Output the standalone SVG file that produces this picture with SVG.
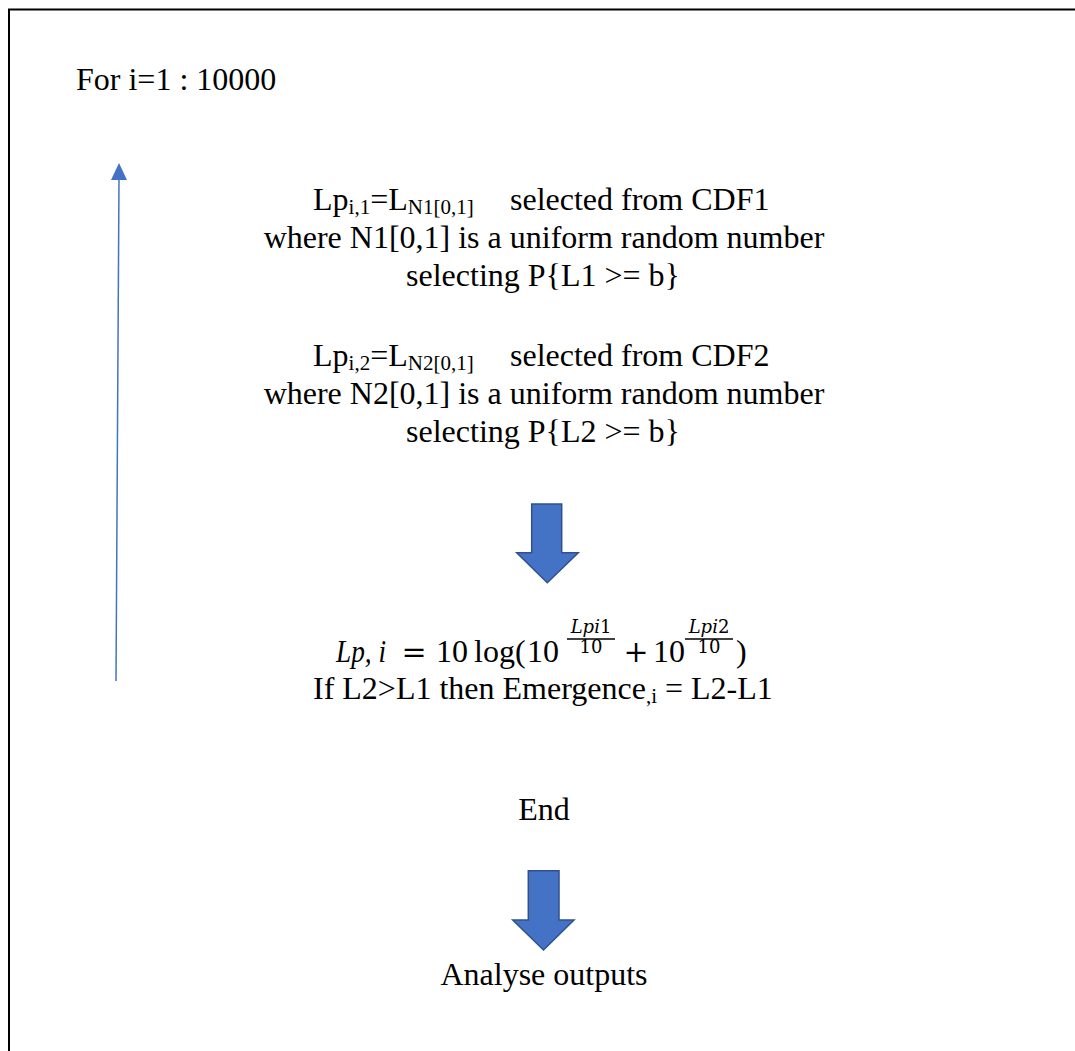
<svg xmlns="http://www.w3.org/2000/svg" width="1075" height="1051" viewBox="0 0 1075 1051">
<style>
.t{font-family:"Liberation Serif","Times New Roman",serif;font-size:32px;fill:#000}
.c{text-anchor:middle}
.sub{font-size:21px}
.it{font-style:italic}
.m{font-family:"Liberation Serif","DejaVu Serif",serif;font-size:32px;fill:#000}
.op{font-family:"DejaVu Serif","Liberation Serif",serif;font-size:30px;fill:#000;text-anchor:middle}
.s{font-family:"DejaVu Serif","Liberation Serif",serif;font-size:18px;fill:#000;text-anchor:middle}
.blk{fill:#4472C4;stroke:#2F528F;stroke-width:1.5;stroke-linejoin:miter}
</style>
<rect width="1075" height="1051" fill="#fff"/>
<path d="M9 1051 V9.5 H1075" fill="none" stroke="#000" stroke-width="2"/>

<g id="loop-header">
<text class="t" x="76" y="90">For i=1 : 10000</text>
</g>

<g id="step1">
<text class="t" x="313" y="210">Lp<tspan class="sub" dy="4">i,1</tspan><tspan dy="-4">=L</tspan><tspan class="sub" dy="4">N1[0,1]</tspan></text>
<text class="t" x="510" y="210">selected from CDF1</text>
<text class="t c" x="544" y="248">where N1[0,1] is a uniform random number</text>
<text class="t c" x="543" y="286">selecting P{L1 &gt;= b}</text>
</g>

<g id="step2">
<text class="t" x="313" y="366">Lp<tspan class="sub" dy="4">i,2</tspan><tspan dy="-4">=L</tspan><tspan class="sub" dy="4">N2[0,1]</tspan></text>
<text class="t" x="510" y="366">selected from CDF2</text>
<text class="t c" x="544" y="404">where N2[0,1] is a uniform random number</text>
<text class="t c" x="543" y="442">selecting P{L2 &gt;= b}</text>
</g>

<g id="combine">
<text class="m it" x="336" y="662" textLength="50" lengthAdjust="spacingAndGlyphs">Lp, i</text>
<text class="op" x="414" y="662">=</text>
<text class="m" x="436" y="662">10</text>
<text class="m" x="474" y="662">log(</text>
<text class="m" x="527" y="662">10</text>
<text class="s" x="591" y="633"><tspan font-style="italic">Lpi</tspan>1</text>
<line x1="567" y1="639" x2="615" y2="639" stroke="#000" stroke-width="1.3"/>
<text class="s" x="591" y="653">10</text>
<text class="op" x="636" y="662">+</text>
<text class="m" x="653" y="662">10</text>
<text class="s" x="709" y="633"><tspan font-style="italic">Lpi</tspan>2</text>
<line x1="685" y1="639" x2="733" y2="639" stroke="#000" stroke-width="1.3"/>
<text class="s" x="709" y="653">10</text>
<text class="m" x="736" y="662">)</text>
<text class="t" x="313" y="699">If L2&gt;L1 then Emergence<tspan class="sub" dy="4">,i</tspan><tspan dy="-4"> = L2-L1</tspan></text>
</g>

<g id="end">
<text class="t c" x="544" y="820">End</text>
</g>

<g id="analyse">
<text class="t c" x="544" y="985">Analyse outputs</text>
</g>

<g id="connectors">
<line x1="116" y1="681" x2="119" y2="178" stroke="#4472C4" stroke-width="1.5"/>
<polygon points="119,163 127,180 111,180" fill="#4472C4"/>
<polygon class="blk" points="531.7,504 561.7,504 561.7,552.7 578.3,552.7 547.3,582.7 516.7,552.7 531.7,552.7"/>
<polygon class="blk" points="528.3,870.7 559,870.7 559,920 574,920 543.5,950 512.7,920 528.3,920"/>
</g>
</svg>
